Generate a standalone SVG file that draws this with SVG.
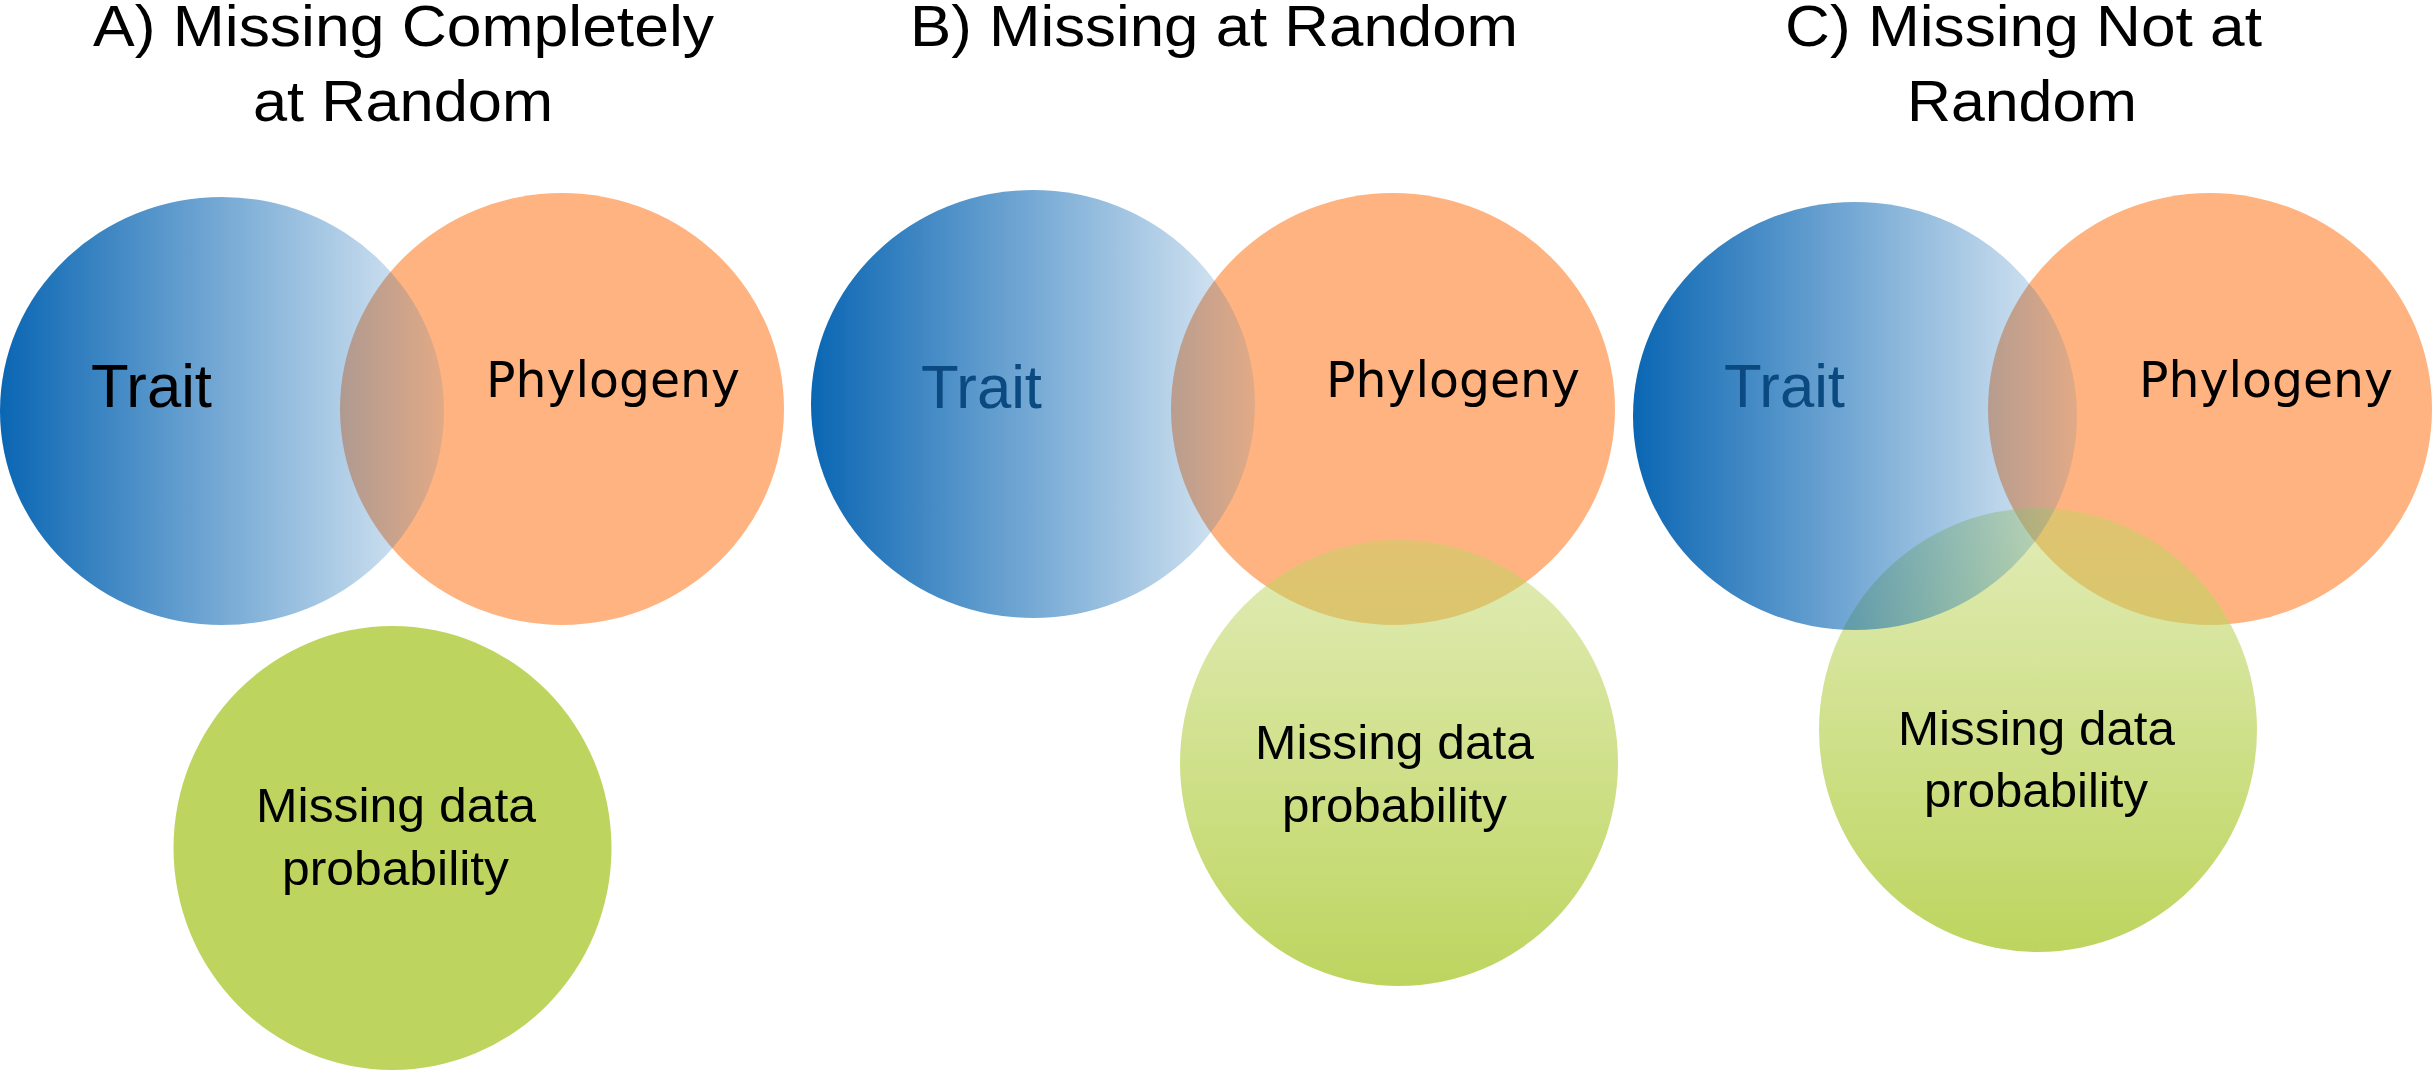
<svg xmlns="http://www.w3.org/2000/svg" width="2434" height="1073" viewBox="0 0 2434 1073">
<style>
.title{font-family:"Liberation Sans",Arial,sans-serif;font-size:57px;fill:#000}
.trait{font-family:"Liberation Sans",Arial,sans-serif;font-size:62px}
.phy{font-family:"DejaVu Sans",sans-serif;font-size:49px;fill:#000}
.miss{font-family:"Liberation Sans",Arial,sans-serif;font-size:48px;fill:#000}
.orange{fill:#ffb380}
.blue{fill:url(#blueGrad)}
.greenSolid{fill:#bdd55f}
.greenFade{fill:url(#greenGrad)}
</style>
<defs>
<linearGradient id="blueGrad" x1="0" y1="0" x2="1" y2="0">
<stop offset="0" stop-color="#0a66b3" stop-opacity="1"/>
<stop offset="1" stop-color="#0a66b3" stop-opacity="0.12"/>
</linearGradient>
<linearGradient id="greenGrad" x1="0" y1="0" x2="0" y2="1">
<stop offset="0" stop-color="#bdd55f" stop-opacity="0.45"/>
<stop offset="1" stop-color="#bdd55f" stop-opacity="1"/>
</linearGradient>
</defs>
<rect width="2434" height="1073" fill="#fff"/>
<g id="connectors"/>

<g id="panel-a">
<g id="title-a">
<text class="title" x="93" y="46" textLength="621" lengthAdjust="spacingAndGlyphs">A) Missing Completely</text>
<text class="title" x="253" y="121" textLength="300" lengthAdjust="spacingAndGlyphs">at Random</text>
</g>
<g id="a-phylogeny">
<ellipse class="orange" cx="562" cy="409" rx="222" ry="216"/>
<text class="phy" x="486" y="397" textLength="254" lengthAdjust="spacingAndGlyphs">Phylogeny</text>
</g>
<g id="a-missing">
<ellipse class="greenSolid" cx="392.5" cy="848" rx="219" ry="222"/>
<text class="miss" x="256" y="822" textLength="280" lengthAdjust="spacingAndGlyphs">Missing data</text>
<text class="miss" x="282" y="885" textLength="227" lengthAdjust="spacingAndGlyphs">probability</text>
</g>
<g id="a-trait">
<ellipse class="blue" cx="222" cy="411" rx="222" ry="214"/>
<text class="trait" x="91" y="407" fill="#000" textLength="121" lengthAdjust="spacingAndGlyphs">Trait</text>
</g>
</g>

<g id="panel-b">
<g id="title-b">
<text class="title" x="910" y="46" textLength="608" lengthAdjust="spacingAndGlyphs">B) Missing at Random</text>
</g>
<g id="b-phylogeny">
<ellipse class="orange" cx="1393" cy="409" rx="222" ry="216"/>
<text class="phy" x="1326" y="397" textLength="254" lengthAdjust="spacingAndGlyphs">Phylogeny</text>
</g>
<g id="b-missing">
<ellipse class="greenFade" cx="1399" cy="763" rx="219" ry="223"/>
<text class="miss" x="1255" y="759" textLength="279" lengthAdjust="spacingAndGlyphs">Missing data</text>
<text class="miss" x="1282" y="822" textLength="225" lengthAdjust="spacingAndGlyphs">probability</text>
</g>
<g id="b-trait">
<ellipse class="blue" cx="1033" cy="404" rx="222" ry="214"/>
<text class="trait" x="921" y="408" fill="#0b4a80" textLength="121" lengthAdjust="spacingAndGlyphs">Trait</text>
</g>
</g>

<g id="panel-c">
<g id="title-c">
<text class="title" x="1785" y="46" textLength="477" lengthAdjust="spacingAndGlyphs">C) Missing Not at</text>
<text class="title" x="1907" y="121" textLength="230" lengthAdjust="spacingAndGlyphs">Random</text>
</g>
<g id="c-phylogeny">
<ellipse class="orange" cx="2210" cy="409" rx="222" ry="216"/>
<text class="phy" x="2139" y="397" textLength="254" lengthAdjust="spacingAndGlyphs">Phylogeny</text>
</g>
<g id="c-missing">
<ellipse class="greenFade" cx="2038" cy="730" rx="219" ry="222"/>
<text class="miss" x="1898" y="745" textLength="277" lengthAdjust="spacingAndGlyphs">Missing data</text>
<text class="miss" x="1924" y="807" textLength="224" lengthAdjust="spacingAndGlyphs">probability</text>
</g>
<g id="c-trait">
<ellipse class="blue" cx="1855" cy="416" rx="222" ry="214"/>
<text class="trait" x="1724" y="407" fill="#0b4a80" textLength="121" lengthAdjust="spacingAndGlyphs">Trait</text>
</g>
</g>
</svg>
